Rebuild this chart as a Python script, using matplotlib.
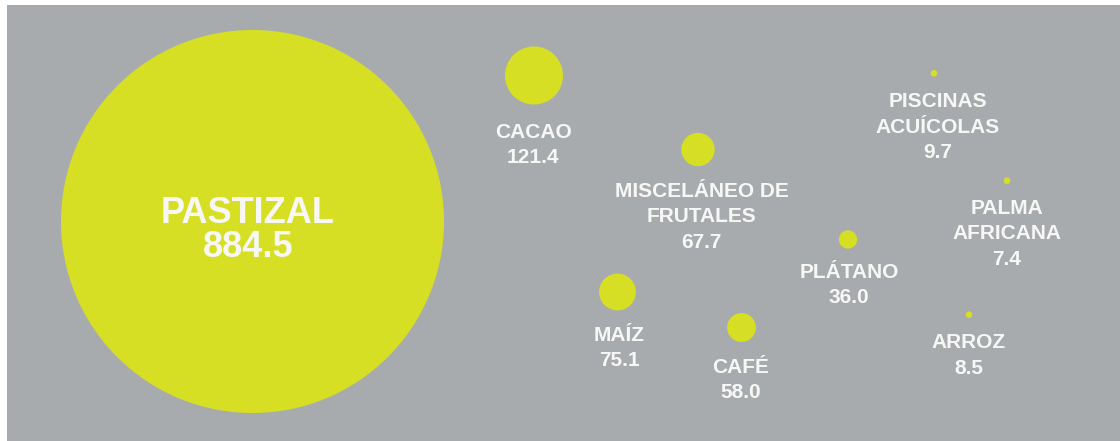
import matplotlib
matplotlib.use('Agg')
import matplotlib.pyplot as plt
from matplotlib.patches import Circle

# superficie por uso del suelo
names = ['PASTIZAL', 'CACAO', 'MISCELÁNEO DE\nFRUTALES', 'MAÍZ', 'CAFÉ',
         'PLÁTANO', 'PISCINAS\nACUÍCOLAS', 'PALMA\nAFRICANA', 'ARROZ']
values = [884.5, 121.4, 67.7, 75.1, 58.0, 36.0, 9.7, 7.4, 8.5]

# layout (pixel units, y downward)
bubble_x = [252.5, 534, 698, 617.5, 741.5, 848, 934, 1007, 969]
bubble_y = [221.5, 75.5, 149.5, 292, 327.5, 239.5, 73.3, 180.7, 314.7]
label_x = [248, 533, 701.5, 619, 740.5, 849, 938, 1007, 969]
label_y = [223.3, 138, 196.7, 340.7, 372.7, 278, 107.3, 214, 348.3]

GRAY = '#a8abae'
LIME = '#d6df24'
TXT = '#f7f7f5'

plt.rcParams['font.family'] = ['Liberation Sans', 'DejaVu Sans']

def radius(v):
    return max(0.304 * v ** 0.95, 3.3)

fig = plt.figure(figsize=(11.2, 4.41), dpi=100, facecolor='white')
ax = fig.add_axes([7 / 1120, 0, 1113 / 1120, 436 / 441])
ax.set_facecolor(GRAY)
ax.set_xlim(7, 1120)
ax.set_ylim(441, 5)
ax.set_xticks([])
ax.set_yticks([])
for s in ax.spines.values():
    s.set_visible(False)

for i in range(len(names)):
    ax.add_patch(Circle((bubble_x[i], bubble_y[i]), radius(values[i]),
                        facecolor=LIME, edgecolor='none'))
    lines = names[i].split('\n') + ['%.1f' % values[i]]
    if i == 0:
        size, step = 26, 33.4
    else:
        size, step = 15, 25.5
    for j, line in enumerate(lines):
        ax.text(label_x[i], label_y[i] + j * step, line, ha='center', va='baseline',
                fontsize=size, fontweight='bold', color=TXT)

fig.savefig('out.png', dpi=100, facecolor='white')
